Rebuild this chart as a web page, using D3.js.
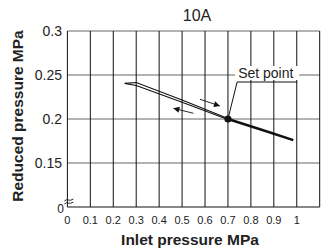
<!DOCTYPE html>
<html><head><meta charset="utf-8">
<script src="https://cdn.jsdelivr.net/npm/d3@7"></script>
<style>body{margin:0;background:#fff}svg{display:block}text{font-family:"Liberation Sans",Arial,sans-serif}</style>
</head><body>
<script>
const title = "10A";
const xTicks = [0,0.1,0.2,0.3,0.4,0.5,0.6,0.7,0.8,0.9,1];
const xTickLabels = ["0","0.1","0.2","0.3","0.4","0.5","0.6","0.7","0.8","0.9","1"];
const xGrid = [0.1,0.2,0.3,0.4,0.5,0.6,0.7,0.8,0.9,1,1.1];
const yTicks = [0.1,0.15,0.2,0.25,0.3];
const yTickLabels = ["0","0.15","0.2","0.25","0.3"];
const yGrid = [0.15,0.2,0.25,0.3];
const upperCurveX = [0.25,0.30,0.50,0.70];
const upperCurveY = [0.2405,0.2415,0.2215,0.2005];
const lowerCurveX = [0.25,0.30,0.50,0.70];
const lowerCurveY = [0.2405,0.2380,0.2190,0.1995];
const commonCurveX = [0.70,0.85,0.985];
const commonCurveY = [0.200,0.1875,0.176];
const setPoint = [0.7,0.2];
const setLabel = "Set point";
const arrowIncX = [0.578,0.665], arrowIncY = [0.2224,0.2148];
const arrowDecX = [0.549,0.462], arrowDecY = [0.2065,0.2122];
const xTitle = "Inlet pressure MPa";
const yTitle = "Reduced pressure MPa";

const W=323,H=251;
const x = d3.scaleLinear().domain([0,1.1]).range([67.4,319.7]);
const y = d3.scaleLinear().domain([0.1,0.3]).range([207,31]);
const svg = d3.select("body").append("svg").attr("width",W).attr("height",H);

svg.append("defs").append("marker").attr("id","ah").attr("viewBox","0 0 10 10")
  .attr("refX",10).attr("refY",5).attr("markerWidth",8).attr("markerHeight",6)
  .attr("markerUnits","userSpaceOnUse").attr("orient","auto")
  .append("path").attr("d","M0,0L10,5L0,10Z").attr("fill","#111");

// horizontal grid
svg.selectAll(".hg").data(yGrid).join("line")
  .attr("x1",x(0)).attr("x2",x(1.1)).attr("y1",d=>y(d)).attr("y2",d=>y(d))
  .attr("stroke","#666").attr("stroke-width",1);
// vertical grid
svg.selectAll(".vg").data(xGrid).join("line")
  .attr("x1",d=>x(d)).attr("x2",d=>x(d)).attr("y1",y(0.3)).attr("y2",y(0.1))
  .attr("stroke","#111").attr("stroke-width",1);
// axes
svg.append("line").attr("x1",x(0)).attr("x2",x(0)).attr("y1",y(0.3)).attr("y2",y(0.1)).attr("stroke","#111");
svg.append("line").attr("x1",x(0)).attr("x2",x(1.1)).attr("y1",y(0.1)).attr("y2",y(0.1)).attr("stroke","#111");

// axis break symbol
const by = y(0.1)-7;
[0,3].forEach(o=>{
  svg.append("path").attr("d",`M${x(0)-3},${by+o+1} q2,-2 4,-1 t5,-1`)
    .attr("fill","none").attr("stroke","#111").attr("stroke-width",0.9);
});

// tick labels
svg.selectAll(".xt").data(xTicks).join("text")
  .attr("x",d=>x(d)).attr("y",224).attr("text-anchor","middle")
  .attr("font-size",11).attr("fill","#222").text((d,i)=>xTickLabels[i]);
svg.selectAll(".yt").data(yTicks).join("text")
  .attr("x",(d,i)=>i===0?64:62).attr("y",(d,i)=>y(d)+(i===0?6:5))
  .attr("text-anchor","end").attr("font-size",(d,i)=>i===0?12:14).attr("fill","#222")
  .text((d,i)=>yTickLabels[i]);

// titles
svg.append("text").attr("x",197).attr("y",21).attr("text-anchor","middle")
  .attr("font-size",16).attr("fill","#222").text(title);
svg.append("text").attr("x",190).attr("y",245).attr("text-anchor","middle")
  .attr("font-size",15.5).attr("font-weight","bold").attr("fill","#222").text(xTitle);
svg.append("text").attr("transform","translate(23,116) rotate(-90)").attr("text-anchor","middle")
  .attr("font-size",15.5).attr("font-weight","bold").attr("fill","#222").text(yTitle);

// curves
const line = d3.line().x(d=>x(d[0])).y(d=>y(d[1]));
const up = upperCurveX.map((v,i)=>[v,upperCurveY[i]]);
const lo = lowerCurveX.map((v,i)=>[v,lowerCurveY[i]]);
const cm = commonCurveX.map((v,i)=>[v,commonCurveY[i]]);
svg.append("path").attr("d",line(up)).attr("fill","none").attr("stroke","#111").attr("stroke-width",1.1);
svg.append("path").attr("d",line(lo)).attr("fill","none").attr("stroke","#111").attr("stroke-width",1.1);
svg.append("path").attr("d",line(cm)).attr("fill","none").attr("stroke","#111").attr("stroke-width",2.4);

// arrows
[[arrowIncX,arrowIncY],[arrowDecX,arrowDecY]].forEach(([ax,ay])=>{
  svg.append("line").attr("x1",x(ax[0])).attr("y1",y(ay[0])).attr("x2",x(ax[1])).attr("y2",y(ay[1]))
    .attr("stroke","#111").attr("stroke-width",0.9).attr("marker-end","url(#ah)");
});

// set point label
const lx = x(0.74), ly = 82;
svg.append("rect").attr("x",lx-2).attr("y",66).attr("width",64).attr("height",14).attr("fill","#fff");
svg.append("text").attr("x",lx+1).attr("y",78).attr("font-size",14).attr("fill","#222").text(setLabel);
svg.append("line").attr("x1",lx).attr("x2",lx+60).attr("y1",ly).attr("y2",ly).attr("stroke","#111").attr("stroke-width",1);
svg.append("line").attr("x1",lx).attr("y1",ly).attr("x2",x(setPoint[0])).attr("y2",y(setPoint[1])).attr("stroke","#111").attr("stroke-width",1);
svg.append("circle").attr("cx",x(setPoint[0])).attr("cy",y(setPoint[1])).attr("r",3.6).attr("fill","#111");
</script>
</body></html>
